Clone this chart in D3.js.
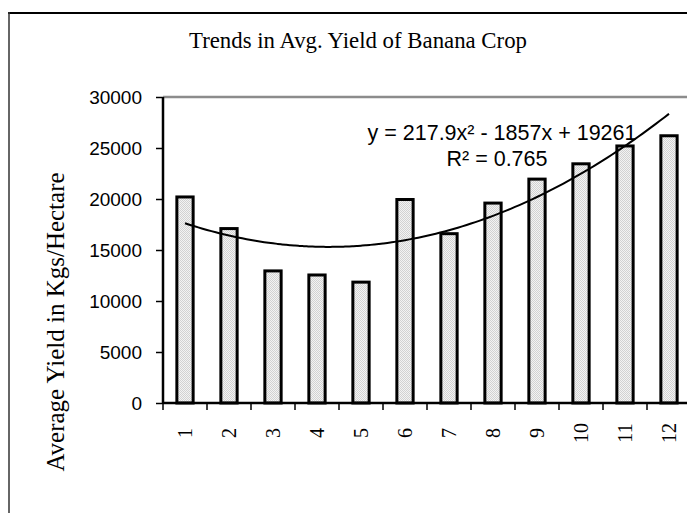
<!DOCTYPE html>
<html>
<head>
<meta charset="utf-8">
<script src="https://cdn.jsdelivr.net/npm/d3@7"></script>
<style>
  html, body { margin: 0; padding: 0; background: #fff; }
  svg { display: block; }
</style>
</head>
<body>
<div id="chart"></div>
<script>
// data
const years = ['1', '2', '3', '4', '5', '6', '7', '8', '9', '10', '11', '12'];
const yieldValues = [20200, 17100, 12950, 12550, 11850, 19950, 16600, 19600, 21950, 23450, 25200, 26200];
const yTicks = [0, 5000, 10000, 15000, 20000, 25000, 30000];
const trendCoef = [217.9, -1857, 19261]; // y = a x^2 + b x + c, as printed on chart
const trendText = ['y = 217.9x² - 1857x + 19261', 'R² = 0.765'];

const width = 687;
const height = 513;
const plot = { left: 163, right: 691, top: 97, bottom: 403 };

const svg = d3.select('#chart').append('svg')
    .attr('width', width)
    .attr('height', height);

// dotted grey fill like the excel pattern
const pat = svg.append('defs').append('pattern')
    .attr('id', 'dots')
    .attr('width', 2)
    .attr('height', 2)
    .attr('patternUnits', 'userSpaceOnUse');
pat.append('rect').attr('width', 2).attr('height', 2).attr('fill', '#f3f3f3');
pat.append('rect').attr('width', 1).attr('height', 1).attr('fill', '#d2d2d2');
pat.append('rect').attr('x', 1).attr('y', 1).attr('width', 1).attr('height', 1).attr('fill', '#d2d2d2');

// chart area border (runs off the right/bottom edge)
svg.append('line')
    .attr('x1', 8).attr('x2', width).attr('y1', 13).attr('y2', 13)
    .attr('stroke', '#000').attr('stroke-width', 2);
svg.append('line')
    .attr('x1', 9).attr('x2', 9).attr('y1', 12).attr('y2', height)
    .attr('stroke', '#333').attr('stroke-width', 1.5);

svg.append('text')
    .attr('x', 358)
    .attr('y', 48)
    .attr('text-anchor', 'middle')
    .attr('font-family', '"Liberation Serif", "Times New Roman", serif')
    .attr('font-size', 22.8)
    .attr('fill', '#000')
    .text('Trends in Avg. Yield of Banana Crop');

const x = d3.scaleBand()
    .domain(years)
    .range([plot.left, plot.right])
    .paddingInner(0.63)
    .paddingOuter(0.315);

const y = d3.scaleLinear()
    .domain([0, 30000])
    .range([plot.bottom, plot.top]);

// plot area top border in grey
svg.append('line')
    .attr('x1', plot.left).attr('x2', plot.right)
    .attr('y1', plot.top).attr('y2', plot.top)
    .attr('stroke', '#8c8c8c').attr('stroke-width', 2.5);

// bars
svg.append('g')
    .selectAll('rect')
    .data(yieldValues)
    .enter().append('rect')
    .attr('x', (d, i) => x(years[i]))
    .attr('y', d => y(d))
    .attr('width', x.bandwidth())
    .attr('height', d => y(0) - y(d))
    .attr('fill', 'url(#dots)')
    .attr('stroke', '#000')
    .attr('stroke-width', 3);

// polynomial trendline using printed coefficients
const xs = d3.range(1, 12.001, 0.1);
const xPos = d3.scaleLinear()
    .domain([1, 12])
    .range([x(years[0]) + x.bandwidth() / 2, x(years[11]) + x.bandwidth() / 2]);
const trend = d3.line()
    .x(d => xPos(d))
    .y(d => y(trendCoef[0] * d * d + trendCoef[1] * d + trendCoef[2]))
    .curve(d3.curveBasis);
svg.append('path')
    .datum(xs)
    .attr('d', trend)
    .attr('fill', 'none')
    .attr('stroke', '#000')
    .attr('stroke-width', 2);

// y axis
const yAxis = svg.append('g')
    .attr('transform', `translate(${plot.left},0)`)
    .call(d3.axisLeft(y).tickValues(yTicks).tickSize(7).tickPadding(14).tickFormat(d3.format('d')));
yAxis.select('.domain').attr('stroke', '#000').attr('stroke-width', 2.5)
    .attr('d', `M0,${plot.top}V${plot.bottom}`);
yAxis.selectAll('.tick line').attr('stroke', '#000').attr('stroke-width', 1.5);
yAxis.selectAll('.tick text')
    .attr('font-family', 'Arial, "Liberation Sans", sans-serif')
    .attr('font-size', 19)
    .attr('fill', '#000');

// x axis
const xAxis = svg.append('g')
    .attr('transform', `translate(0,${plot.bottom})`)
    .call(d3.axisBottom(x).tickSize(0).tickFormat(''));
xAxis.select('.domain').attr('stroke', '#000').attr('stroke-width', 2.5)
    .attr('d', `M${plot.left},0H${plot.right}`);

// tick marks sit between the categories
const step = x.step();
svg.append('g')
    .selectAll('line')
    .data(d3.range(years.length + 1))
    .enter().append('line')
    .attr('x1', i => plot.left + i * step)
    .attr('x2', i => plot.left + i * step)
    .attr('y1', plot.bottom)
    .attr('y2', plot.bottom + 7)
    .attr('stroke', '#000')
    .attr('stroke-width', 1.5);

svg.append('g')
    .selectAll('text')
    .data(years)
    .enter().append('text')
    .attr('transform', d => `translate(${x(d) + x.bandwidth() / 2},433) rotate(-90)`)
    .attr('text-anchor', 'middle')
    .attr('dy', '0.33em')
    .attr('font-family', '"Liberation Serif", "Times New Roman", serif')
    .attr('font-size', 20)
    .attr('fill', '#000')
    .text(d => d);

// y axis title
svg.append('text')
    .attr('transform', 'translate(64,322) rotate(-90)')
    .attr('text-anchor', 'middle')
    .attr('font-family', '"Liberation Serif", "Times New Roman", serif')
    .attr('font-size', 25)
    .attr('fill', '#000')
    .text('Average Yield in Kgs/Hectare');

// trendline label
svg.append('g')
    .selectAll('text')
    .data(trendText)
    .enter().append('text')
    .attr('x', (d, i) => i === 0 ? 502 : 497)
    .attr('y', (d, i) => 140 + i * 26)
    .attr('text-anchor', 'middle')
    .attr('font-family', 'Arial, "Liberation Sans", sans-serif')
    .attr('font-size', 21.5)
    .attr('fill', '#000')
    .text(d => d);
</script>
</body>
</html>
